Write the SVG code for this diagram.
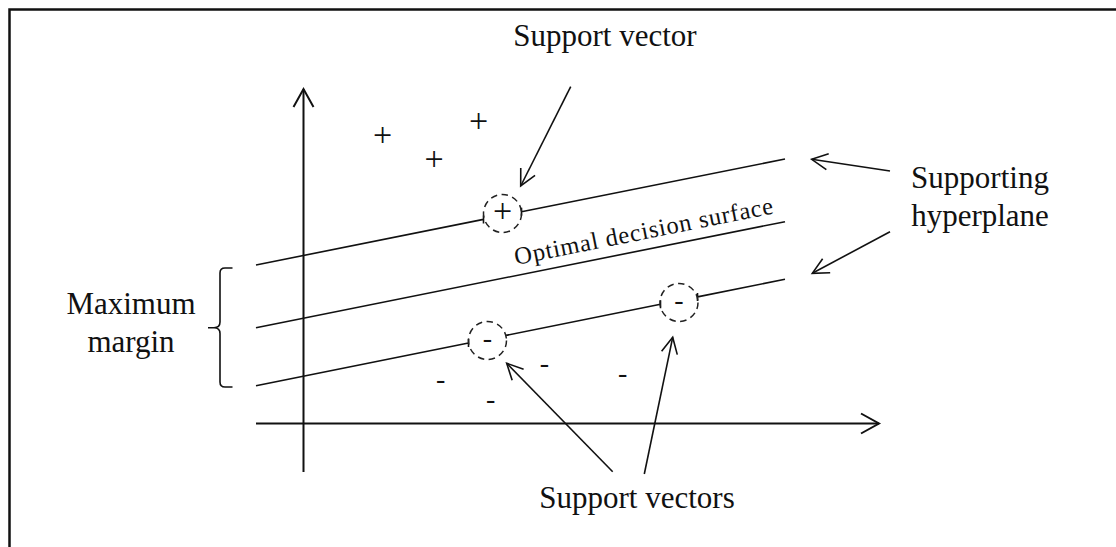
<svg xmlns="http://www.w3.org/2000/svg" width="1116" height="547" viewBox="0 0 1116 547">
  <defs>
    <style>
      .ln { stroke: #111; stroke-width: 1.6; fill: none; }
      .ax { stroke: #111; stroke-width: 2; fill: none; }
      .dash { stroke: #222; stroke-width: 1.5; fill: none; stroke-dasharray: 6.5 4.5; }
      .lbl { font-family: "Liberation Serif", "Times New Roman", serif; font-size: 31px; fill: #111; }
      .sym { font-family: "Liberation Serif", "Times New Roman", serif; font-size: 34px; fill: #111; text-anchor: middle; }
      .neg { font-family: "Liberation Serif", "Times New Roman", serif; font-size: 28px; fill: #111; text-anchor: middle; }
      .surf { font-family: "Liberation Serif", "Times New Roman", serif; font-size: 24.5px; fill: #111; letter-spacing: 0.8px; }
    </style>
    <marker id="ahAx" markerUnits="userSpaceOnUse" markerWidth="30" markerHeight="30" viewBox="-22 -15 30 30" refX="0" refY="0" orient="auto">
      <path d="M-18,-10 L0,0 L-18,10" stroke="#111" stroke-width="2" fill="none"/>
    </marker>
    <marker id="ah" markerUnits="userSpaceOnUse" markerWidth="30" markerHeight="30" viewBox="-22 -15 30 30" refX="0" refY="0" orient="auto">
      <path d="M-16,-8 L0,0 L-16,8" stroke="#111" stroke-width="1.6" fill="none"/>
    </marker>
  </defs>

  <rect x="9.5" y="9.5" width="1200" height="600" fill="#fff" stroke="#111" stroke-width="2.5"/>

  <g id="axes">
    <line class="ax" x1="303.5" y1="472" x2="303.5" y2="89" marker-end="url(#ahAx)"/>
    <line class="ax" x1="256" y1="423.5" x2="879" y2="423.5" marker-end="url(#ahAx)"/>
  </g>

  <g id="supporting-hyperplane-top">
    <path class="ln" d="M256,265 L483.5,219.4 M483.5,215.4 V223.4 M521.5,211.8 L785,159 M521.5,207.8 V215.8"/>
  </g>
  <g id="optimal-decision-surface">
    <line class="ln" x1="256" y1="327.7" x2="785" y2="221.7"/>
    <text class="surf" transform="translate(516,265) rotate(-11.33)">Optimal decision surface</text>
  </g>
  <g id="supporting-hyperplane-bottom">
    <path class="ln" d="M256,385.7 L468.5,343 M468.5,339 V347 M506,335.4 L660.5,304.3 M660.5,300.3 V308.3 M697.5,296.9 L785,279.3 M697.5,292.9 V300.9"/>
  </g>

  <g id="sv-plus">
    <circle class="dash" cx="502.5" cy="213.5" r="19"/>
    <text class="sym" x="502.5" y="222.1">+</text>
  </g>
  <g id="sv-minus-1">
    <circle class="dash" cx="487.5" cy="340.5" r="19"/>
    <text class="neg" x="487.5" y="347">-</text>
  </g>
  <g id="sv-minus-2">
    <circle class="dash" cx="679" cy="302.5" r="19"/>
    <text class="neg" x="679" y="309">-</text>
  </g>

  <g id="plus-points">
    <text class="sym" x="382.5" y="145.6">+</text>
    <text class="sym" x="434" y="169.6">+</text>
    <text class="sym" x="478.5" y="131.6">+</text>
  </g>
  <g id="minus-points">
    <text class="neg" x="440.7" y="388.3">-</text>
    <text class="neg" x="490.7" y="408.3">-</text>
    <text class="neg" x="544.3" y="372.3">-</text>
    <text class="neg" x="622.7" y="382.3">-</text>
  </g>

  <g id="label-support-vector">
    <text class="lbl" x="605" y="46" text-anchor="middle">Support vector</text>
  </g>
  <g id="label-supporting-hyperplane">
    <text class="lbl" x="980" y="188" text-anchor="middle">Supporting</text>
    <text class="lbl" x="980" y="226" text-anchor="middle">hyperplane</text>
  </g>
  <g id="label-maximum-margin">
    <text class="lbl" x="131" y="314" text-anchor="middle">Maximum</text>
    <text class="lbl" x="131" y="352" text-anchor="middle">margin</text>
    <path class="ln" d="M232.5,268 H225 Q220,268 220,273 V322 Q220,327.7 214,327.7 H208 M214,327.7 Q220,327.7 220,333.5 V382 Q220,387 225,387 H232.5"/>
  </g>
  <g id="label-support-vectors">
    <text class="lbl" x="637" y="508" text-anchor="middle">Support vectors</text>
  </g>

  <g id="connectors">
    <line class="ln" x1="570.7" y1="86.7" x2="520.7" y2="186" marker-end="url(#ah)"/>
    <line class="ln" x1="890" y1="171" x2="811.7" y2="159.3" marker-end="url(#ah)"/>
    <line class="ln" x1="890" y1="231.7" x2="812.3" y2="273.3" marker-end="url(#ah)"/>
    <line class="ln" x1="612.7" y1="471.7" x2="506.7" y2="363.3" marker-end="url(#ah)"/>
    <line class="ln" x1="644.3" y1="474" x2="672.7" y2="337.3" marker-end="url(#ah)"/>
  </g>
</svg>
